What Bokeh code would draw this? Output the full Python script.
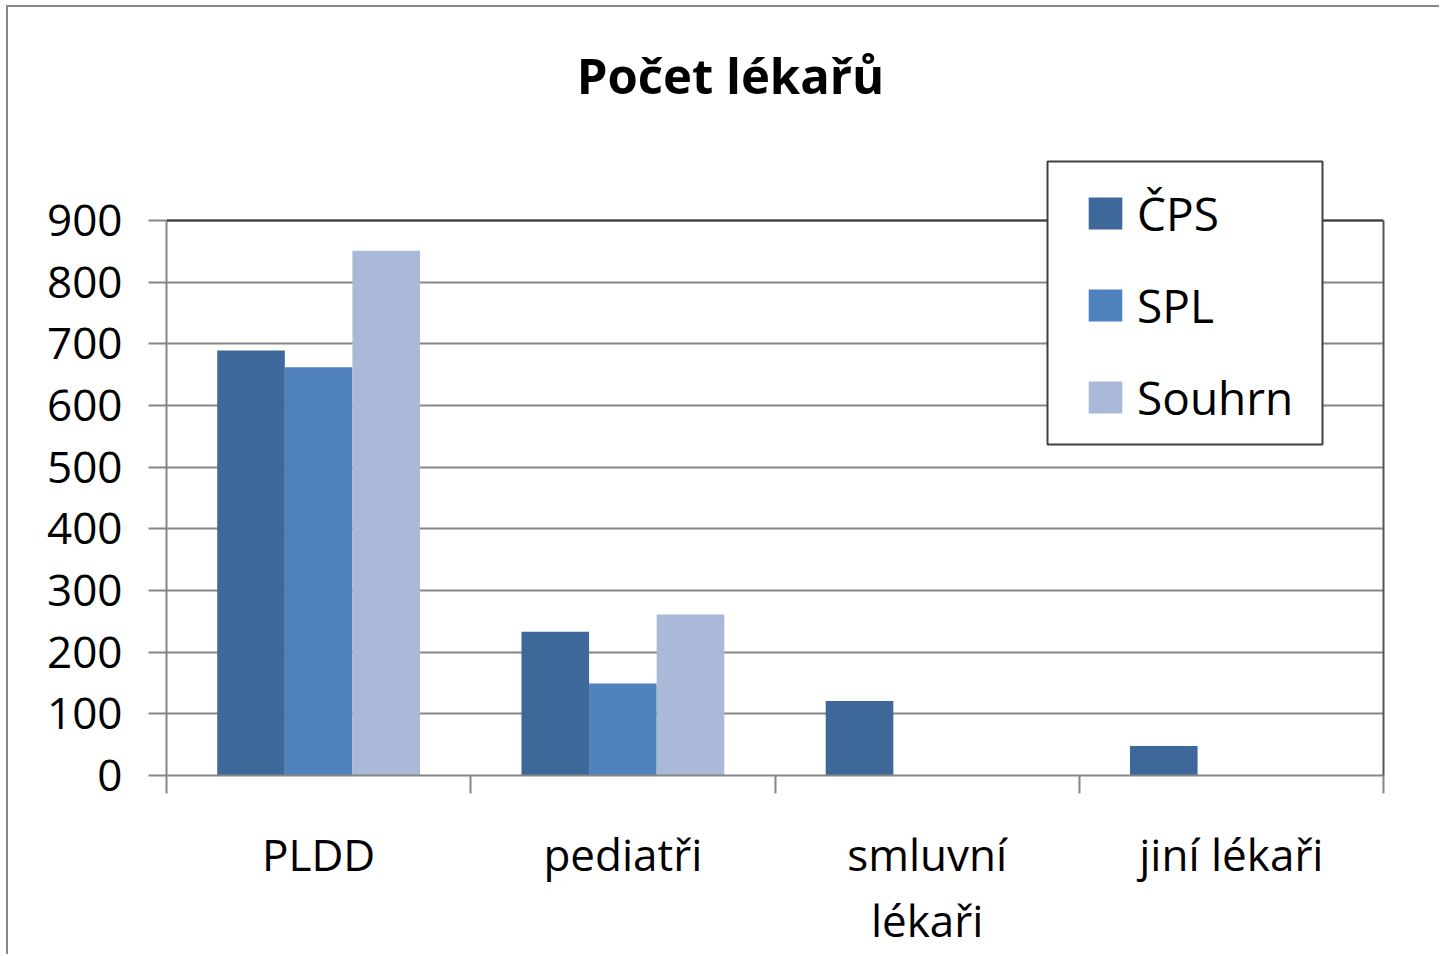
from bokeh.plotting import figure
from bokeh.models import (FactorRange, Range1d, LinearAxis, CategoricalAxis, FixedTicker,
                          ColumnDataSource, Legend, LegendItem, Label, Span, BoxAnnotation)
from bokeh.transform import dodge
from bokeh.embed import file_html
from bokeh.resources import INLINE

title = "Počet lékařů"
categories = ["PLDD", "pediatři", "smluvní\nlékaři", "jiní lékaři"]
series = ["ČPS", "SPL", "Souhrn"]
cps = [689, 233, 121, 48]
spl = [662, 149, 0, 0]
souhrn = [851, 261, 0, 0]
colors = ["#3E6899", "#4F81BD", "#AAB9D7"]
y_ticks = [0, 100, 200, 300, 400, 500, 600, 700, 800, 900]
y_max = 900

FONT = "Open Sans"
GRID = "#868686"

src = ColumnDataSource(dict(cat=categories, cps=cps, spl=spl, souhrn=souhrn))

W, H = 1433, 949
BL, BR, BB = 158, 58, 181
frame_h = H - BB
val_px = 555  # pixel height of the 0..900 span
y_end = y_max * frame_h / val_px

p = figure(width=W, height=H, x_range=FactorRange(*categories, range_padding=0),
           y_range=Range1d(0, y_end), output_backend="svg", toolbar_location=None,
           x_axis_location=None, y_axis_location=None,
           min_border_left=BL, min_border_right=BR, min_border_top=0, min_border_bottom=BB,
           styles={"border-left": "2px solid #898989", "border-top": "2px solid #898989",
                   "margin-left": "6px", "margin-top": "5px"})
p.x_range.factor_padding = 0
p.background_fill_color = "white"
p.border_fill_color = "white"
p.outline_line_color = None

# y axis (left)
yax = LinearAxis(ticker=FixedTicker(ticks=y_ticks), bounds=(0, y_max),
                 axis_line_color=GRID, axis_line_width=2,
                 major_tick_line_color=GRID, major_tick_line_width=2, major_tick_out=18,
                 major_tick_in=0, minor_tick_line_color=None, major_label_standoff=26,
                 major_label_text_font=FONT, major_label_text_font_size="44px",
                 major_label_text_color="black")
p.add_layout(yax, "left")

# right border of plot area
rax = LinearAxis(ticker=FixedTicker(ticks=[]), bounds=(0, y_max),
                 axis_line_color="#555555", axis_line_width=2,
                 major_tick_line_color=None, minor_tick_line_color=None,
                 major_label_text_font_size="0px", major_label_text_color=None)
p.add_layout(rax, "right")

# x axis: tick marks at the category boundaries
xtick = LinearAxis(ticker=FixedTicker(ticks=list(range(len(categories) + 1))),
                   axis_line_color=GRID, axis_line_width=2, major_tick_line_color=GRID,
                   major_tick_line_width=2, major_tick_out=18, major_tick_in=0,
                   minor_tick_line_color=None, major_label_text_font_size="0px",
                   major_label_text_color=None, major_label_standoff=0)
p.add_layout(xtick, "below")
xcat = CategoricalAxis(axis_line_color=None, major_tick_line_color=None,
                       major_tick_out=0, major_tick_in=0,
                       major_label_text_font=FONT, major_label_text_font_size="44px",
                       major_label_text_color="black", major_label_standoff=30,
                       major_label_text_line_height=1.1)
p.add_layout(xcat, "below")

p.xgrid.visible = False
p.ygrid.ticker = FixedTicker(ticks=y_ticks)
p.ygrid.grid_line_color = GRID
p.ygrid.grid_line_width = 2

# top border of plot area
p.add_layout(Span(location=y_max, dimension="width", line_color="#3a3a3a", line_width=2))

w = 0.2222
r1 = p.vbar(x=dodge("cat", -w, range=p.x_range), top="cps", width=w, source=src,
            fill_color=colors[0], line_color=None)
r2 = p.vbar(x=dodge("cat", 0, range=p.x_range), top="spl", width=w, source=src,
            fill_color=colors[1], line_color=None)
r3 = p.vbar(x=dodge("cat", w, range=p.x_range), top="souhrn", width=w, source=src,
            fill_color=colors[2], line_color=None)

# title
p.add_layout(Label(x=564, y=701, x_units="screen", y_units="screen", text=title,
                   text_align="center", text_baseline="alphabetic", text_font=FONT,
                   text_font_size="49px", text_font_style="bold", text_color="black"))

# legend box
p.add_layout(BoxAnnotation(left=881, right=1156, bottom=331, top=614,
                           left_units="screen", right_units="screen",
                           bottom_units="screen", top_units="screen",
                           fill_color="white", fill_alpha=1,
                           line_color="#404040", line_alpha=1, line_width=2,
                           level="annotation"))

legend = Legend(items=[LegendItem(label=series[0], renderers=[r1]),
                       LegendItem(label=series[1], renderers=[r2]),
                       LegendItem(label=series[2], renderers=[r3])],
                location=(918, 347), label_text_font=FONT, label_text_font_size="46px",
                label_text_color="black", glyph_width=42, glyph_height=40,
                label_standoff=11, spacing=30, padding=18, margin=0,
                border_line_color=None, background_fill_alpha=0)
p.add_layout(legend, "center")

open("out.html", "w").write(file_html(p, INLINE))
